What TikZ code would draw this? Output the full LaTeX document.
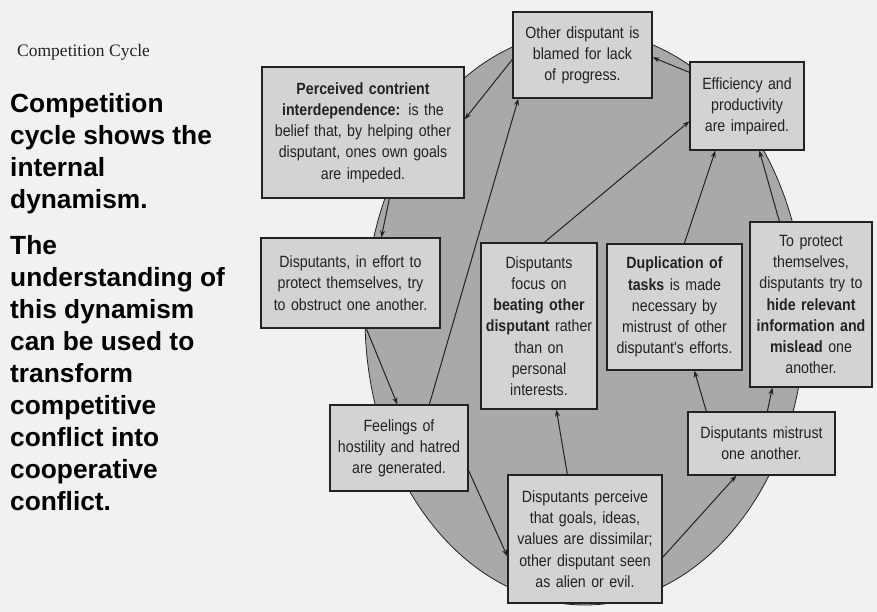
\documentclass[tikz,border=0pt]{standalone}
\usepackage{fontspec}
\setmainfont{Liberation Sans}
\newfontfamily\serifcap{Liberation Serif}
\newfontfamily\boxfont[FakeStretch=0.87]{Liberation Sans}
\usetikzlibrary{arrows.meta,calc}
\definecolor{bg}{HTML}{F1F1F1}
\definecolor{ell}{HTML}{A9A9A9}
\definecolor{boxfill}{HTML}{D3D3D3}
\definecolor{ink}{HTML}{222222}
\begin{document}
\begin{tikzpicture}[x=1pt,y=-1pt,
  cbox/.style={draw=ink, line width=1.3pt, fill=boxfill, inner sep=0pt, align=center,
    font=\boxfont\fontsize{16.3}{21.2}\selectfont, text=ink},
  arr/.style={draw=ink, line width=1pt, -{Stealth[length=7pt,width=5pt]}},
  side/.style={font=\fontsize{26.3}{32}\selectfont\bfseries, align=left, inner sep=0pt, anchor=north west, text=black}
]
\fill[bg] (0,0) rectangle (877,612);
\useasboundingbox (0,0) rectangle (877,612);

% ellipse
\fill[ell, draw=ink, line width=0.8pt] (585,318) ellipse [x radius=220, y radius=287];

% left texts
\node[anchor=base west, inner sep=0pt, text=ink, font=\serifcap\fontsize{17.5}{20}\selectfont] (title) at (17,57) {Competition Cycle};
\node[side] (p1) at (10,93) {Competition\\cycle shows the\\internal\\dynamism.};
\node[side] (p2) at (10,235) {The\\understanding of\\this dynamism\\can be used to\\transform\\competitive\\conflict into\\cooperative\\conflict.};

% boxes
\node[cbox, minimum width=202, minimum height=131, text width=196] (b1) at (363,132.5)
  {\textbf{Perceived contrient}\\\textbf{interdependence:} is the\\belief that, by helping other\\disputant, ones own goals\\are impeded.};
\node[cbox, minimum width=139, minimum height=86, text width=133] (b2) at (582.5,55)
  {Other disputant is\\blamed for lack\\of progress.};
\node[cbox, minimum width=114, minimum height=88, text width=108] (b3) at (747,106)
  {Efficiency and\\productivity\\are impaired.};
\node[cbox, minimum width=179, minimum height=90, text width=173] (b4) at (350.5,283)
  {Disputants, in effort to\\protect themselves, try\\to obstruct one another.};
\node[cbox, minimum width=138, minimum height=86, text width=134] (b5) at (399,448)
  {Feelings of\\hostility and hatred\\are generated.};
\node[cbox, minimum width=116, minimum height=166, text width=112] (b6) at (539,326)
  {Disputants\\focus on\\\textbf{beating other}\\\textbf{disputant} rather\\than on\\personal\\interests.};
\node[cbox, minimum width=135, minimum height=126, text width=131] (b7) at (674.5,307)
  {\textbf{Duplication of}\\\textbf{tasks} is made\\necessary by\\mistrust of other\\disputant's efforts.};
\node[cbox, minimum width=122, minimum height=165, text width=118] (b8) at (811,304.5)
  {To protect\\themselves,\\disputants try to\\\textbf{hide relevant}\\\textbf{information and}\\\textbf{mislead} one\\another.};
\node[cbox, minimum width=147, minimum height=63, text width=143] (b9) at (761.5,443.5)
  {Disputants mistrust\\one another.};
\node[cbox, minimum width=154, minimum height=128, text width=150] (b10) at (585,539)
  {Disputants perceive\\that goals, ideas,\\values are dissimilar;\\other disputant seen\\as alien or evil.};

% connectors
\draw[arr] ([xshift=128pt]b1.south west) -- ([xshift=121pt]b4.north west);
\draw[arr] ([xshift=106pt]b4.south west) -- ([xshift=68pt]b5.north west);
\draw[arr] ([yshift=21pt]b5.south east) -- ([yshift=-82pt]b10.north west);
\draw[arr] ([xshift=60pt]b10.north west) -- ([xshift=76pt]b6.south west);
\draw[arr] ([yshift=-83pt]b10.north east) -- ([xshift=49pt]b9.south west);
\draw[arr] ([xshift=19pt]b9.north west) -- ([xshift=88pt]b7.south west);
\draw[arr] ([xshift=80pt]b9.north west) -- ([xshift=23pt]b8.south west);
\draw[arr] ([xshift=30pt]b8.north west) -- ([xshift=70pt]b3.south west);
\draw[arr] ([xshift=78pt]b7.north west) -- ([xshift=26pt]b3.south west);
\draw[arr] ([xshift=64pt]b6.north west) -- ([yshift=-60pt]b3.north west);
\draw[arr] ([xshift=100pt]b5.north west) -- ([xshift=6pt]b2.south west);
\draw[arr] ([yshift=-11pt]b3.north west) -- ([yshift=-46pt]b2.north east);
\draw[arr] ([yshift=-48pt]b2.north west) -- ([yshift=-53pt]b1.north east);
\end{tikzpicture}
\end{document}
